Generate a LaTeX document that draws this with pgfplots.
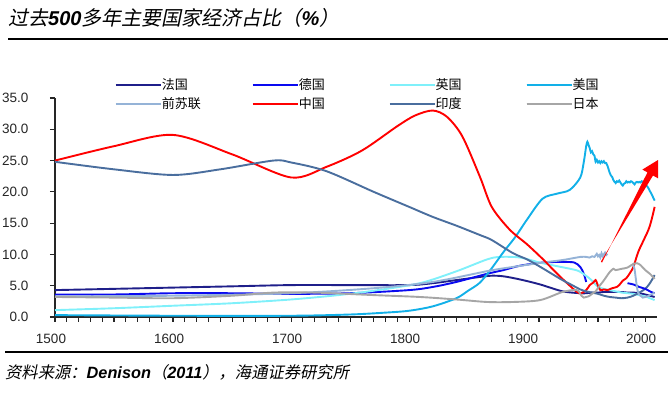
\documentclass[border=0pt]{standalone}
\usepackage{fontspec}
\usepackage{pgfplots}
\pgfplotsset{compat=1.18}
\setmainfont{Liberation Sans}
\newfontfamily\cjk{Noto Sans CJK SC}
\newfontfamily\cjksl[FakeSlant=0.2]{Noto Sans CJK SC}
\definecolor{cfr}{HTML}{1F1F8A}
\definecolor{cde}{HTML}{0A0AF0}
\definecolor{cuk}{HTML}{7FF0FA}
\definecolor{cus}{HTML}{12B0E8}
\definecolor{csu}{HTML}{95B3D7}
\definecolor{ccn}{HTML}{FF0000}
\definecolor{cin}{HTML}{4A6E9E}
\definecolor{cjp}{HTML}{A6A6A6}
\begin{document}
\begin{tikzpicture}
\useasboundingbox (0,0) rectangle (672bp,396bp);
% title
\node[anchor=west, inner sep=0pt] at (8bp,378bp) {\fontsize{20bp}{22bp}\selectfont\cjksl 过去{\rmfamily\bfseries\itshape 500}多年主要国家经济占比（{\rmfamily\bfseries\itshape\%}）};
\draw[line width=2.2bp] (8bp,357bp) -- (668bp,357bp);
% footer
\draw[line width=1.6bp] (5bp,44bp) -- (668bp,44bp);
\node[anchor=west, inner sep=0pt] at (5bp,24bp) {\fontsize{16.3bp}{18bp}\selectfont\cjksl 资料来源：{\rmfamily\bfseries\itshape Denison}（{\rmfamily\bfseries\itshape 2011}），海通证券研究所};
\begin{axis}[
  at={(55bp,79bp)}, anchor=south west,
  width=602bp, height=219bp, scale only axis,
  xmin=1500, xmax=2010, ymin=0, ymax=35,
  axis x line*=bottom, axis y line*=left,
  axis line style={line width=1.3bp, black!85},
  xtick={1500,1600,...,2000}, minor x tick num=9,
  ytick={0,5,...,35},
  tick align=outside,
  major tick length=5bp, minor tick length=5bp,
  every tick/.style={line width=1.1bp, black!85},
  /pgf/number format/assume math mode=true,
  tick label style={font=\fontsize{13.5bp}{15bp}\selectfont, text=black!85},
  xticklabel style={/pgf/number format/set thousands separator={}, yshift=-9bp, xshift=-4bp},
  yticklabel style={/pgf/number format/fixed, /pgf/number format/fixed zerofill, /pgf/number format/precision=1, xshift=-18bp},
  clip=false,
  legend columns=4,
  legend cell align=left,
  legend style={draw=none, fill=none, at={(0.0997,1.0868)}, anchor=north west, inner sep=0pt, outer sep=0pt, row sep=6bp, column sep=0pt, font=\cjk\fontsize{13bp}{15bp}\selectfont, nodes={inner sep=0pt, text width=90bp, align=left}},
  legend image code/.code={\draw[#1] (0bp,0bp) -- (35bp,0bp); \path (0bp,0bp) -- (45bp,0bp);},
  every axis plot/.append style={line width=1.9bp, smooth, no markers},
]
% France
\addplot[cfr] coordinates {(1500,4.3)(1550,4.5)(1600,4.7)(1650,4.9)(1700,5.1)(1750,5.1)(1800,5.1)(1820,5.4)(1840,5.9)(1860,6.4)(1870,6.6)(1880,6.5)(1894,6.0)(1911,5.2)(1930,4.1)(1945,3.8)(1950,3.8)(1955,3.9)(1960,3.9)(1965,4.0)(1970,4.0)(1975,4.0)(1980,4.0)(1985,3.9)(1990,3.9)(1995,3.8)(2000,3.6)(2004,3.4)(2008,3.2)};
\addlegendentry{法国}
% Germany
\addplot[cde] coordinates {(1500,3.6)(1550,3.6)(1600,3.8)(1650,3.8)(1700,3.7)(1750,3.8)(1800,4.3)(1820,4.8)(1840,5.6)(1866,6.9)(1880,7.5)(1894,8.2)(1913,8.7)(1930,8.8)(1940,8.7)(1945,8.0)(1948,6.9)(1950,5.6)};
\addlegendentry{德国}
% UK
\addplot[cuk] coordinates {(1500,1.1)(1550,1.4)(1600,1.8)(1650,2.2)(1700,2.8)(1740,3.5)(1770,4.2)(1809,5.4)(1840,7.3)(1866,9.2)(1877,9.6)(1894,9.5)(1913,8.6)(1939,7.6)(1945,7.2)(1952,6.3)(1956,5.6)(1960,4.8)(1965,4.5)(1970,4.3)(1975,4.1)(1980,3.9)(1985,3.8)(1990,3.7)(1995,3.5)(2000,3.3)(2004,3.0)(2008,2.7)};
\addlegendentry{英国}
% US
\addplot[cus] coordinates {(1500,0.3)(1600,0.2)(1700,0.2)(1750,0.4)(1780,0.7)(1800,1.0)(1820,1.7)(1840,3.0)(1850,4.2)(1860,5.5)(1870,7.8)(1880,10.4)(1890,12.8)(1900,15.6)(1913,18.9)(1925,19.7)(1936,20.3)(1945,22.3)(1948,24.8)(1950,27.3)(1951,28.0)(1952,27.5)(1953,27.0)(1954,26.3)(1955,26.5)(1956,26.0)(1957,25.8)(1958,24.8)(1959,25.1)(1960,24.7)(1961,24.9)(1962,24.6)(1963,24.9)(1964,24.7)(1965,24.9)(1966,24.6)(1967,24.6)(1968,24.2)(1969,23.6)(1970,23.0)(1971,22.6)(1972,22.4)(1973,21.9)(1974,21.6)(1975,21.4)(1976,21.7)(1977,21.6)(1978,21.8)(1979,21.5)(1980,21.2)(1981,21.0)(1982,21.3)(1983,21.4)(1984,21.7)(1985,21.5)(1986,21.6)(1987,21.5)(1988,21.7)(1989,21.6)(1990,21.4)(1991,21.2)(1992,21.5)(1993,21.6)(1994,21.5)(1995,21.6)(1996,21.5)(1997,21.7)(1998,21.6)(1999,21.5)(2000,21.3)(2001,21.0)(2002,20.8)(2003,20.5)(2004,20.1)(2005,19.8)(2006,19.4)(2007,19.0)(2008,18.6)};
\addlegendentry{美国}
% USSR
\addplot[csu] coordinates {(1500,3.3)(1600,3.4)(1700,3.8)(1770,4.6)(1820,5.6)(1868,7.4)(1888,8.0)(1913,8.7)(1930,9.1)(1945,9.6)(1950,9.6)(1953,9.5)(1955,9.7)(1957,9.6)(1959,10.1)(1960,9.7)(1961,9.9)(1962,9.5)(1963,10.2)(1964,9.7)(1965,10.0)(1966,10.3)(1967,9.9)(1968,10.1)};
\addlegendentry{前苏联}
% China
\addplot[ccn] coordinates {(1500,25.0)(1550,27.3)(1600,29.1)(1650,26.0)(1700,22.3)(1730,24.0)(1760,26.6)(1790,30.5)(1805,32.2)(1820,33.0)(1832,32.0)(1845,28.9)(1860,22.4)(1870,17.6)(1885,14.0)(1900,11.6)(1913,9.3)(1925,7.0)(1935,5.2)(1944,3.8)(1950,4.3)(1953,5.1)(1956,5.5)(1958,5.9)(1960,5.0)(1962,4.3)(1965,4.4)(1968,4.3)(1972,4.6)(1976,4.8)(1978,5.1)(1981,5.8)(1984,6.2)(1987,7.0)(1990,8.0)(1993,9.8)(1995,10.8)(1998,12.0)(2000,12.8)(2002,13.6)(2004,14.6)(2006,16.0)(2008,17.6)};
\addlegendentry{中国}
% India
\addplot[cin] coordinates {(1500,24.8)(1550,23.6)(1600,22.7)(1640,23.6)(1685,25.0)(1700,24.7)(1730,23.3)(1770,20.0)(1800,17.6)(1820,16.0)(1840,14.6)(1860,13.1)(1870,12.3)(1888,10.2)(1900,9.2)(1913,7.8)(1928,6.1)(1939,5.0)(1945,4.4)(1950,4.1)(1955,3.9)(1960,3.7)(1965,3.4)(1970,3.2)(1975,3.1)(1980,3.0)(1985,3.1)(1990,3.4)(1995,3.9)(2000,4.5)(2004,5.4)(2008,6.7)};
\addlegendentry{印度}
% Japan
\addplot[cjp] coordinates {(1500,3.2)(1550,3.1)(1600,3.0)(1650,3.4)(1685,3.9)(1720,3.9)(1770,3.5)(1809,3.2)(1840,2.8)(1866,2.4)(1888,2.4)(1911,2.7)(1930,4.0)(1942,4.3)(1946,3.4)(1948,3.1)(1950,3.2)(1952,3.3)(1955,3.7)(1958,4.1)(1961,4.9)(1964,5.6)(1967,6.4)(1970,7.2)(1973,7.7)(1975,7.5)(1980,7.7)(1985,7.9)(1990,8.5)(1993,8.6)(1996,8.3)(2000,7.5)(2004,6.9)(2008,6.1)};
\addlegendentry{日本}
% later segments
\addplot[cde, forget plot] coordinates {(1985,5.4)(1990,5.2)(1995,4.8)(2000,4.5)(2005,4.0)(2008,3.8)};
\addplot[csu, forget plot] coordinates {(1990,8.3)(1991,7.6)(1992,6.2)(1993,4.8)(1994,3.9)(1995,3.6)(1996,3.4)(1998,3.1)(2000,3.2)(2002,3.3)(2004,3.5)(2006,3.7)(2008,3.9)};
% arrow annotation
\fill[red] (axis cs:1962.5,8.88) -- (axis cs:2006.6,22.61) -- (axis cs:2010.9,22.16) -- (axis cs:2010.85,25.09) -- (axis cs:1997.6,23.56) -- (axis cs:2001.9,23.11) -- (axis cs:1963.45,8.70) -- cycle;
\end{axis}
\end{tikzpicture}
\end{document}
